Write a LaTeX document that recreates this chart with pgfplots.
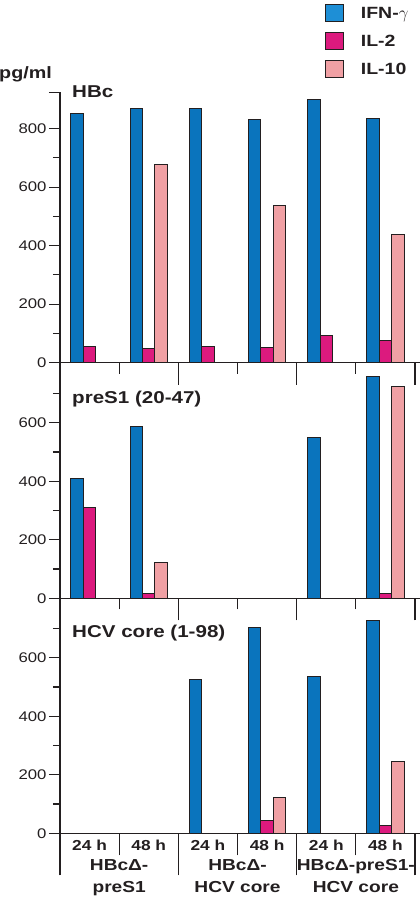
\documentclass[border=0pt]{standalone}
\usepackage{fontspec}
\setmainfont{Liberation Sans}[FakeStretch=1.2]
\usepackage{pgfplots}
\pgfplotsset{compat=1.18}
\definecolor{cIFN}{HTML}{0A74BD}
\definecolor{cIFNleg}{HTML}{1E8FD6}
\definecolor{cIL2}{HTML}{DC1A7E}
\definecolor{cIL10}{HTML}{F0A0A4}
\definecolor{edge}{HTML}{231F20}
\newcommand{\tl}[1]{\hbox{\fontsize{14}{16}\selectfont #1}}
\pgfplotsset{
  panel/.style={
    scale only axis, width=360bp, xmin=0, xmax=6.084, ymin=0,
    axis lines*=left,
    axis line style={line width=1.1bp, color=edge},
    tick align=outside, major tick length=11bp, minor tick length=7bp,
    tick style={line width=1.1bp, color=edge},
    /pgf/number format/assume math mode=true,
    yticklabel style={text=edge, xshift=1bp},
    ybar, bar width=0.21, clip=false,
  },
  bIFN/.style={fill=cIFN, draw=edge, line width=1bp, bar shift=0pt},
  bIL2/.style={fill=cIL2, draw=edge, line width=1bp, bar shift=0pt},
  bIL10/.style={fill=cIL10, draw=edge, line width=1bp, bar shift=0pt},
}
\begin{document}
\begin{tikzpicture}
\useasboundingbox (0,0) rectangle (420bp,907bp);
% ---------- top panel: HBc ----------
\begin{axis}[panel, at={(60bp,544.3bp)}, anchor=south west,
  height=270.4bp, ymax=924,
  ytick={0,200,400,600,800},
  yticklabels={{\tl{0}},{\tl{200}},{\tl{400}},{\tl{600}},{\tl{800}}},
  minor ytick={100,300,500,700},
  extra y ticks={924}, extra y tick labels={},
  xtick={1,3,5}, xticklabels={},
  extra x ticks={2,4,6}, extra x tick labels={},
  extra x tick style={major tick length=22bp},
  legend style={at={(axis description cs:0.727,1.334)}, anchor=north west,
    draw=none, fill=none, font=\bfseries\fontsize{16.3}{18}\selectfont,
    text=edge, row sep=10bp,
    /tikz/every odd column/.append style={column sep=15bp}},
  legend cell align=left,
  legend image code/.code={\draw[#1] (0bp,-8bp) rectangle (18bp,9bp);},
]
\addlegendimage{fill=cIFNleg, draw=edge, line width=1bp}
\addlegendentry{IFN-$\gamma$}
\addlegendimage{fill=cIL2, draw=edge, line width=1bp}
\addlegendentry{IL-2}
\addlegendimage{fill=cIL10, draw=edge, line width=1bp}
\addlegendentry{IL-10}
\addplot[bIFN, forget plot] coordinates {(0.29,853) (1.29,867) (2.29,868) (3.29,832) (4.29,899) (5.29,836)};
\addplot[bIL2, forget plot] coordinates {(0.5,55) (1.5,49) (2.5,54) (3.5,53) (4.5,92) (5.5,77)};
\addplot[bIL10, forget plot] coordinates {(1.71,676) (3.71,538) (5.71,439)};
\end{axis}
% ---------- middle panel: preS1 (20-47) ----------
\begin{axis}[panel, at={(60bp,308.7bp)}, anchor=south west,
  height=235.6bp, ymax=805,
  ytick={0,200,400,600},
  yticklabels={{\tl{0}},{\tl{200}},{\tl{400}},{\tl{600}}},
  minor ytick={100,300,500,700},
  xtick={1,3,5}, xticklabels={},
  extra x ticks={2,4,6}, extra x tick labels={},
  extra x tick style={major tick length=22bp},
]
\addplot[bIFN] coordinates {(0.29,409) (1.29,588) (4.29,548) (5.29,757)};
\addplot[bIL2] coordinates {(0.5,311) (1.5,16) (5.5,16)};
\addplot[bIL10] coordinates {(1.71,123) (5.71,723)};
\end{axis}
% ---------- bottom panel: HCV core (1-98) ----------
\begin{axis}[panel, at={(60bp,73.7bp)}, anchor=south west,
  height=235bp, ymax=803,
  ytick={0,200,400,600},
  yticklabels={{\tl{0}},{\tl{200}},{\tl{400}},{\tl{600}}},
  minor ytick={100,300,500,700},
  xtick=\empty,
]
\addplot[bIFN] coordinates {(2.29,526) (3.29,702) (4.29,537) (5.29,726)};
\addplot[bIL2] coordinates {(3.5,43) (5.5,25)};
\addplot[bIL10] coordinates {(3.71,123) (5.71,246)};
\end{axis}
% separators and group labels
\begin{axis}[panel, at={(60bp,73.7bp)}, anchor=south west,
  height=235bp, ymax=803, hide y axis,
  xtick={1,3,5},
  xticklabels={{HBcΔ-\\preS1},{HBcΔ-\\HCV core},{HBcΔ-preS1-\\HCV core}},
  xticklabel style={align=center, font=\bfseries\fontsize{16}{21.7}\selectfont, text=edge, yshift=-1bp},
  major tick length=22bp,
  extra x ticks={0,2,4,6}, extra x tick labels={},
  extra x tick style={major tick length=42bp},
]
\end{axis}
% time labels
\begin{axis}[panel, at={(60bp,73.7bp)}, anchor=south west,
  height=235bp, ymax=803, hide y axis,
  xtick={0.5,1.5,2.5,3.5,4.5,5.5},
  xticklabels={24 h,48 h,24 h,48 h,24 h,48 h},
  xticklabel style={font=\bfseries\fontsize{14.5}{16}\selectfont, text=edge, yshift=-3bp},
  major tick length=0pt,
]
\end{axis}
\node[anchor=base west, inner sep=0pt, font=\bfseries\fontsize{16.5}{18}\selectfont, text=edge] at (-1bp,828.7bp) {pg/ml};
\node[anchor=base west, inner sep=0pt, font=\bfseries\fontsize{17.2}{19}\selectfont, text=edge] at (72bp,809.7bp) {HBc};
\node[anchor=base west, inner sep=0pt, font=\bfseries\fontsize{17.2}{19}\selectfont, text=edge] at (72bp,503.7bp) {preS1 (20-47)};
\node[anchor=base west, inner sep=0pt, font=\bfseries\fontsize{17.2}{19}\selectfont, text=edge] at (72bp,269.3bp) {HCV core (1-98)};
\end{tikzpicture}
\end{document}
